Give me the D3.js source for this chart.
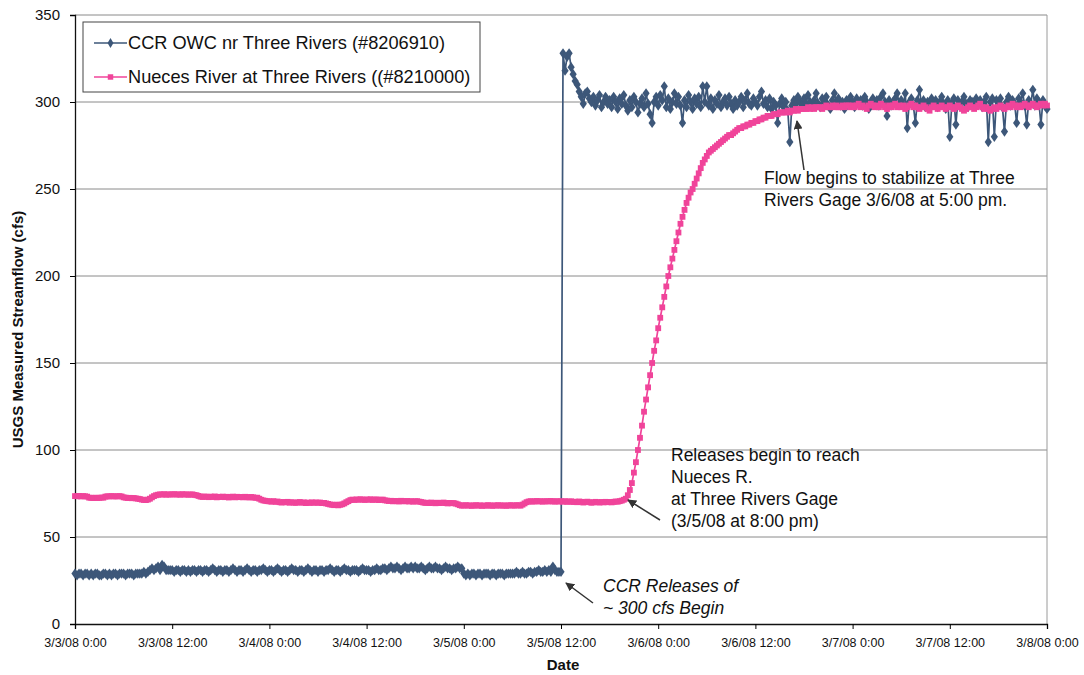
<!DOCTYPE html>
<html><head><meta charset="utf-8">
<script src="https://cdn.jsdelivr.net/npm/d3@7"></script>
<style>body{margin:0;background:#fff}text{font-family:"Liberation Sans",Arial,sans-serif}</style>
</head><body><svg id="c" width="1084" height="675"></svg>
<script>
const startTime = "2008-03-03 0:00";
const stepMinutes = 15;
const seriesNames = ["CCR OWC nr Three Rivers (#8206910)", "Nueces River at Three Rivers ((#8210000)"];
const ccrFlow = [
29,28,29,29,28,29,29,28,29,28,29,29,28,28,29,29,28,29,28,29,29,28,29,29,
29,28,29,29,29,28,29,29,29,29,30,29,30,31,32,31,32,33,31,34,33,31,31,31,
31,30,31,31,30,31,31,30,31,30,31,31,30,31,31,30,31,31,30,31,32,31,30,31,
31,30,31,31,30,31,32,31,30,31,31,30,31,32,31,30,31,31,30,31,31,32,31,30,
31,31,30,31,32,31,30,31,31,30,31,32,31,31,30,31,31,30,31,32,31,30,31,31,
30,31,31,30,31,31,32,31,30,31,31,30,31,32,31,31,30,31,31,31,30,31,32,31,
31,31,30,31,31,32,31,31,32,32,31,32,33,32,32,33,32,31,32,33,32,32,33,32,
33,32,32,33,32,31,32,33,32,32,33,32,32,31,32,33,32,32,31,32,32,33,32,32,
29,28,29,28,29,29,28,29,29,28,29,29,29,28,29,29,28,29,29,29,28,29,29,29,
29,29,30,29,29,30,29,29,30,30,29,30,30,31,30,30,31,30,31,30,33,31,30,30,
30,328,318,326,328,320,316,312,310,306,303,299,305,306,302,300,303,298,301,304,297,300,303,299,
301,297,303,300,296,302,299,304,298,295,301,297,303,300,294,299,302,297,305,299,293,288,300,303,
298,304,301,309,297,302,296,300,305,299,303,298,288,301,297,304,300,296,302,299,303,297,309,300,
309,298,302,296,301,299,304,297,300,302,298,303,299,296,301,298,300,303,297,301,305,299,298,302,
300,298,303,306,299,301,297,302,296,300,298,288,299,302,297,300,295,277,298,301,299,303,300,298,
302,299,304,300,298,301,305,299,297,302,300,303,298,296,301,305,299,302,298,300,296,301,299,303,
300,297,302,299,301,298,303,300,296,300,302,299,301,298,303,305,300,292,301,298,300,302,305,299,
301,298,305,285,300,302,298,288,301,307,299,301,297,300,298,302,299,301,297,300,303,299,296,301,
280,299,302,287,301,298,300,303,299,297,301,300,298,302,299,301,297,300,303,277,300,302,280,301,
299,302,297,283,300,303,298,301,299,288,302,300,305,298,287,301,299,307,298,302,300,287,301,298,
296];
const nuecesFlow = [
73.5,73.4,73.6,73.3,73.5,73.4,73.2,72.6,72.5,72.4,72.6,72.4,72.5,72.7,72.6,73.2,73.4,73.3,73.5,73.4,73.3,73.4,73.5,73.3,
72.8,72.6,72.4,72.5,72.3,72.4,72.2,72.0,71.8,71.5,71.3,71.2,71.5,72.0,72.8,73.5,74.0,74.3,74.5,74.4,74.6,74.3,74.5,74.4,
74.5,74.6,74.4,74.5,74.3,74.6,74.4,74.5,74.3,74.4,74.5,74.2,74.0,73.6,73.2,73.0,73.3,73.1,72.9,73.2,73.0,73.3,72.8,73.1,
73.0,73.2,72.9,73.1,72.7,73.0,73.2,72.8,73.1,72.9,73.0,72.8,73.1,72.9,72.7,73.0,72.8,72.5,72.6,72.0,71.4,71.0,70.8,70.6,
70.5,70.3,70.6,70.2,70.4,70.0,69.8,70.1,69.9,70.2,69.7,70.0,69.8,69.6,69.9,70.1,69.7,69.9,69.5,69.8,69.6,69.9,69.7,69.8,
69.7,69.8,69.5,69.6,69.3,69.0,68.7,68.5,68.3,68.6,68.2,68.5,68.8,69.3,70.0,70.6,71.2,71.5,71.3,71.6,71.4,71.7,71.5,71.3,
71.6,71.4,71.7,71.3,71.5,71.6,71.2,71.4,71.5,71.1,70.9,70.7,70.8,70.5,70.7,70.6,70.4,70.8,70.6,70.5,70.7,70.4,70.6,70.3,
70.5,70.6,70.3,70.1,69.8,69.6,69.7,69.5,69.8,69.6,69.4,69.7,69.5,69.6,69.8,69.5,69.3,69.6,69.4,69.5,69.2,68.8,68.3,68.0,
68.1,68.3,68.0,68.2,67.9,68.1,68.3,68.0,68.2,67.9,68.1,68.0,68.3,68.1,67.9,68.2,68.0,68.3,68.1,68.0,68.2,67.9,68.1,68.3,
68.1,68.0,68.3,68.2,68.0,68.6,69.3,70.0,70.4,70.6,70.3,70.5,70.7,70.4,70.6,70.3,70.5,70.6,70.4,70.7,70.5,70.3,70.6,70.4,
70.5,70.3,70.6,70.2,70.4,70.5,70.1,70.3,70.0,70.4,70.2,69.8,70.1,70.3,70.0,69.7,69.9,70.2,70.0,69.8,70.1,69.9,70.2,70.0,
70.1,69.9,70.2,70.4,70.3,70.6,70.9,71.4,72,74,77,81,87,93,100,107,114,122,129,136,143,150,157,163,
170,176,182,188,194,200,205,210,215,220,225,230,234,238,242,245,248,250,253,256,259,262,265,267,
269,271,272,273,274,275,276,277,278,279,280,281,281,282,283,284,285,285,286,286,287,287,288,288,
289,289,290,290,291,291,292,292,292,293,293,293,294,294,294,294,295,294,295,295,296,295,296,296,
296,296,297,296,297,296,297,297,297,296,297,298,297,297,298,297,298,297,297,298,297,298,298,297,
298,297,298,299,297,298,297,296,298,299,298,297,298,297,299,298,297,296,298,297,298,299,297,298,
297,298,296,297,298,299,297,298,297,296,297,298,297,296,295,297,298,297,296,297,298,297,296,297,
298,297,296,297,298,297,296,295,296,297,298,297,296,297,298,299,297,296,297,296,295,296,297,296,
297,298,297,296,297,298,297,299,298,297,298,297,298,299,298,297,298,299,298,297,298,299,298,299,
298];
const xTickLabels = ["3/3/08 0:00","3/3/08 12:00","3/4/08 0:00","3/4/08 12:00","3/5/08 0:00","3/5/08 12:00","3/6/08 0:00","3/6/08 12:00","3/7/08 0:00","3/7/08 12:00","3/8/08 0:00"];
const yTickValues = [0,50,100,150,200,250,300,350];
const yTitle = "USGS Measured Streamflow (cfs)";
const xTitle = "Date";
const notes = [
  {lines:["Flow begins to stabilize at Three","Rivers Gage 3/6/08 at 5:00 pm."], italic:false},
  {lines:["Releases begin to reach","Nueces R.","at Three Rivers Gage","(3/5/08 at 8:00 pm)"], italic:false},
  {lines:["CCR Releases of","~ 300 cfs Begin"], italic:true}
];

const parse = d3.timeParse("%m/%d/%y %H:%M");
const parseStart = d3.timeParse("%Y-%m-%d %H:%M");
const t0 = parseStart(startTime);
const timeAt = i => new Date(t0.getTime() + i*stepMinutes*60000);
const tickTimes = xTickLabels.map(s => parse(s));

const svg = d3.select("#c");
const L=75, R=1047, T=15, B=624;
const x = d3.scaleTime().domain([tickTimes[0], tickTimes[tickTimes.length-1]]).range([L,R]);
const y = d3.scaleLinear().domain([0,350]).range([B,T]);

// grid
svg.append("g").selectAll("line").data(yTickValues.filter(v=>v>0)).join("line")
  .attr("x1",L).attr("x2",R).attr("y1",d=>y(d)).attr("y2",d=>y(d))
  .attr("stroke","#8a8a8a").attr("stroke-width",1);
svg.append("line").attr("x1",R).attr("x2",R).attr("y1",T).attr("y2",B).attr("stroke","#9a9a9a");

// axes
const yAxis = svg.append("g").attr("transform",`translate(${L},0)`)
  .call(d3.axisLeft(y).tickValues(yTickValues).tickSize(5).tickPadding(10).tickFormat(d3.format("d")));
yAxis.select(".domain").attr("stroke","#111").attr("stroke-width",1.3);
yAxis.selectAll("text").attr("font-size",15).attr("fill","#111");
const xAxis = svg.append("g").attr("transform",`translate(0,${B})`)
  .call(d3.axisBottom(x).tickValues(tickTimes).tickSize(5).tickPadding(9).tickFormat((d,i)=>xTickLabels[i]));
xAxis.select(".domain").attr("stroke","#111").attr("stroke-width",1.3);
xAxis.selectAll("text").attr("font-size",12.5).attr("fill","#111");

svg.append("text").attr("transform",`translate(23,${(T+B)/2 + 10}) rotate(-90)`).attr("text-anchor","middle")
  .attr("font-size",15).attr("font-weight","bold").attr("fill","#111").text(yTitle);
svg.append("text").attr("x",563).attr("y",670).attr("text-anchor","middle")
  .attr("font-size",15).attr("font-weight","bold").attr("fill","#111").text(xTitle);

const colors = ["#3d5779","#f0449a"];
const line = d3.line().x((d,i)=>x(timeAt(i))).y(d=>y(d));
function drawSeries(vals, color, shape){
  const g = svg.append("g");
  g.append("path").datum(vals).attr("d",line).attr("fill","none").attr("stroke",color).attr("stroke-width",1.7);
  const sym = d3.symbol().type(shape).size(shape===d3.symbolSquare?34:34);
  g.selectAll("path.m").data(vals).join("path").attr("class","m")
    .attr("transform",(d,i)=>`translate(${x(timeAt(i))},${y(d)})${shape===d3.symbolDiamond?" scale(1.15,0.95)":""}`)
    .attr("d",sym()).attr("fill",color);
}
drawSeries(ccrFlow, colors[0], d3.symbolDiamond);
drawSeries(nuecesFlow, colors[1], d3.symbolSquare);

// legend
const lg = svg.append("g");
lg.append("rect").attr("x",83).attr("y",22).attr("width",397).attr("height",70).attr("fill","#fff").attr("stroke","#444").attr("stroke-width",1);
seriesNames.forEach((n,k)=>{
  const yy = 43 + k*34;
  lg.append("line").attr("x1",94).attr("x2",127).attr("y1",yy).attr("y2",yy).attr("stroke",colors[k]).attr("stroke-width",1.6);
  lg.append("path").attr("transform",`translate(110.5,${yy})`).attr("d",d3.symbol().type(k?d3.symbolSquare:d3.symbolDiamond).size(30)()).attr("fill",colors[k]);
  lg.append("text").attr("x",128).attr("y",yy+6).attr("font-size",18.2).attr("fill","#111").text(n);
});

// annotations
svg.append("defs").append("marker").attr("id","ah").attr("viewBox","0 0 10 10").attr("refX",9).attr("refY",5)
  .attr("markerWidth",9).attr("markerHeight",9).attr("orient","auto-start-reverse").attr("markerUnits","userSpaceOnUse")
  .append("path").attr("d","M0,0L10,5L0,10Z").attr("fill","#333");
function arrow(x1,y1,x2,y2){
  svg.append("line").attr("x1",x1).attr("y1",y1).attr("x2",x2).attr("y2",y2).attr("stroke","#333").attr("stroke-width",1.5).attr("marker-end","url(#ah)");
}
function note(nt, x0, y0, dy){
  const t = svg.append("text").attr("font-size",17.5).attr("fill","#111").attr("font-style",nt.italic?"italic":"normal");
  nt.lines.forEach((s,i)=>t.append("tspan").attr("x",x0).attr("y",y0+i*dy).text(s));
}
note(notes[0], 764, 184, 22);
arrow(804,170,797,121);
note(notes[1], 671, 461, 22);
arrow(660,520,628,500);
note(notes[2], 603, 592, 22);
arrow(593,603,566,583);
</script></body></html>
